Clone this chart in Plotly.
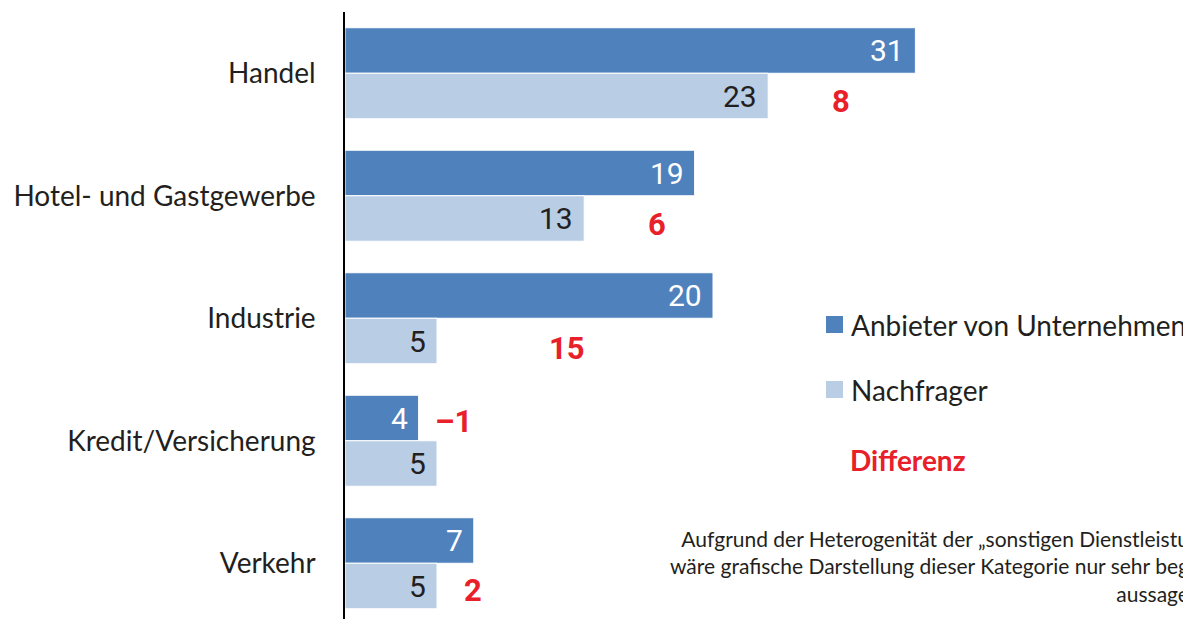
import plotly.graph_objects as go

# ---- data ----
categories = ["Handel", "Hotel- und Gastgewerbe", "Industrie", "Kredit/Versicherung", "Verkehr"]
anbieter = [31, 19, 20, 4, 7]
nachfrager = [23, 13, 5, 5, 5]
series_names = ["Anbieter von Unternehmen", "Nachfrager"]
diff_title = "Differenz"
note_lines = ["Aufgrund der Heterogenität der „sonstigen Dienstleistu",
              "wäre grafische Darstellung dieser Kategorie nur sehr beg",
              "aussage"]

# ---- layout helpers (positions, not data) ----
OFF = 8                      # page body margin in the browser
W, H = 1191 - OFF, 619 - OFF
L, R, T, B = 345 - OFF, 0, 12 - OFF, 0
diff_label_x = [26.98, 16.96, 12.09, 5.87, 6.93]      # x (data units) of difference labels
diff_label_shift = [-28, -29, -30, 19, -27]            # px vertical shift from category centre

DARK = "#4F81BD"
LIGHT = "#B9CDE5"
RED = "#E8202A"
TXT = "#231F20"
FONT = "Lato"
NUMFONT = "Roboto"


def px(xp):
    # xp in window pixels
    return (xp - OFF - L) / (W - L - R)


def py(yp):
    return 1 - (yp - OFF - T) / (H - T - B)


fig = go.Figure()
fig.add_trace(go.Bar(y=categories, x=anbieter, orientation="h", name=series_names[0],
                     marker=dict(color=DARK, line=dict(color="white", width=1))))
fig.add_trace(go.Bar(y=categories, x=nachfrager, orientation="h", name=series_names[1],
                     marker=dict(color=LIGHT, line=dict(color="white", width=1))))

annotations = []
half = 22.75
for c, a, n, dx, dy in zip(categories, anbieter, nachfrager, diff_label_x, diff_label_shift):
    annotations.append(dict(x=a, y=c, xref="x", yref="y", text=str(a), showarrow=False,
                            xanchor="right", xshift=-9, yshift=half,
                            font=dict(family=NUMFONT, size=30, color="white")))
    annotations.append(dict(x=n, y=c, xref="x", yref="y", text=str(n), showarrow=False,
                            xanchor="right", xshift=-9, yshift=-half,
                            font=dict(family=NUMFONT, size=30, color=TXT)))
    d = a - n
    dtxt = str(d) if d >= 0 else "–" + str(-d)
    annotations.append(dict(x=dx, y=c, xref="x", yref="y", text=dtxt, showarrow=False,
                            xanchor="center", yshift=dy,
                            font=dict(family=NUMFONT, size=31, color=RED, weight="bold")))

# manual legend
legend_rows = [(series_names[0], DARK, 324.5), (series_names[1], LIGHT, 389.5)]
shapes = []
for name, col, yc in legend_rows:
    shapes.append(dict(type="rect", xref="paper", yref="paper",
                       x0=px(826), x1=px(843), y0=py(yc + 8.5), y1=py(yc - 8.5),
                       fillcolor=col, line=dict(width=0)))
    annotations.append(dict(x=px(849), y=py(yc), xref="paper", yref="paper", text=name,
                            showarrow=False, xanchor="left", yanchor="middle",
                            font=dict(family=FONT, size=28, color=TXT)))
annotations.append(dict(x=px(848), y=py(460), xref="paper", yref="paper", text=diff_title,
                        showarrow=False, xanchor="left", yanchor="middle",
                        font=dict(family=FONT, size=28, color=RED, weight="bold")))
annotations.append(dict(x=1.0, y=py(566), xref="paper", yref="paper",
                        text="<br>".join(note_lines), showarrow=False,
                        xanchor="right", yanchor="middle", align="right",
                        font=dict(family=FONT, size=21, color=TXT)))

span = (H - T - B) / 122.5
fig.update_layout(
    width=W, height=H, margin=dict(l=L, r=R, t=T, b=B, pad=0),
    paper_bgcolor="white", plot_bgcolor="white",
    barmode="group", bargap=0.257, bargroupgap=0,
    showlegend=False,
    annotations=annotations, shapes=shapes,
    xaxis=dict(range=[0, (W - L - R) / 18.4], visible=False, fixedrange=True),
    yaxis=dict(range=[-0.5 + span, -0.5], showline=True, linecolor="black", linewidth=1.5,
               ticks="", showgrid=False, zeroline=False, ticklabelstandoff=22,
               tickfont=dict(family=FONT, size=28, color=TXT)),
)

fig.write_html("out.html")
